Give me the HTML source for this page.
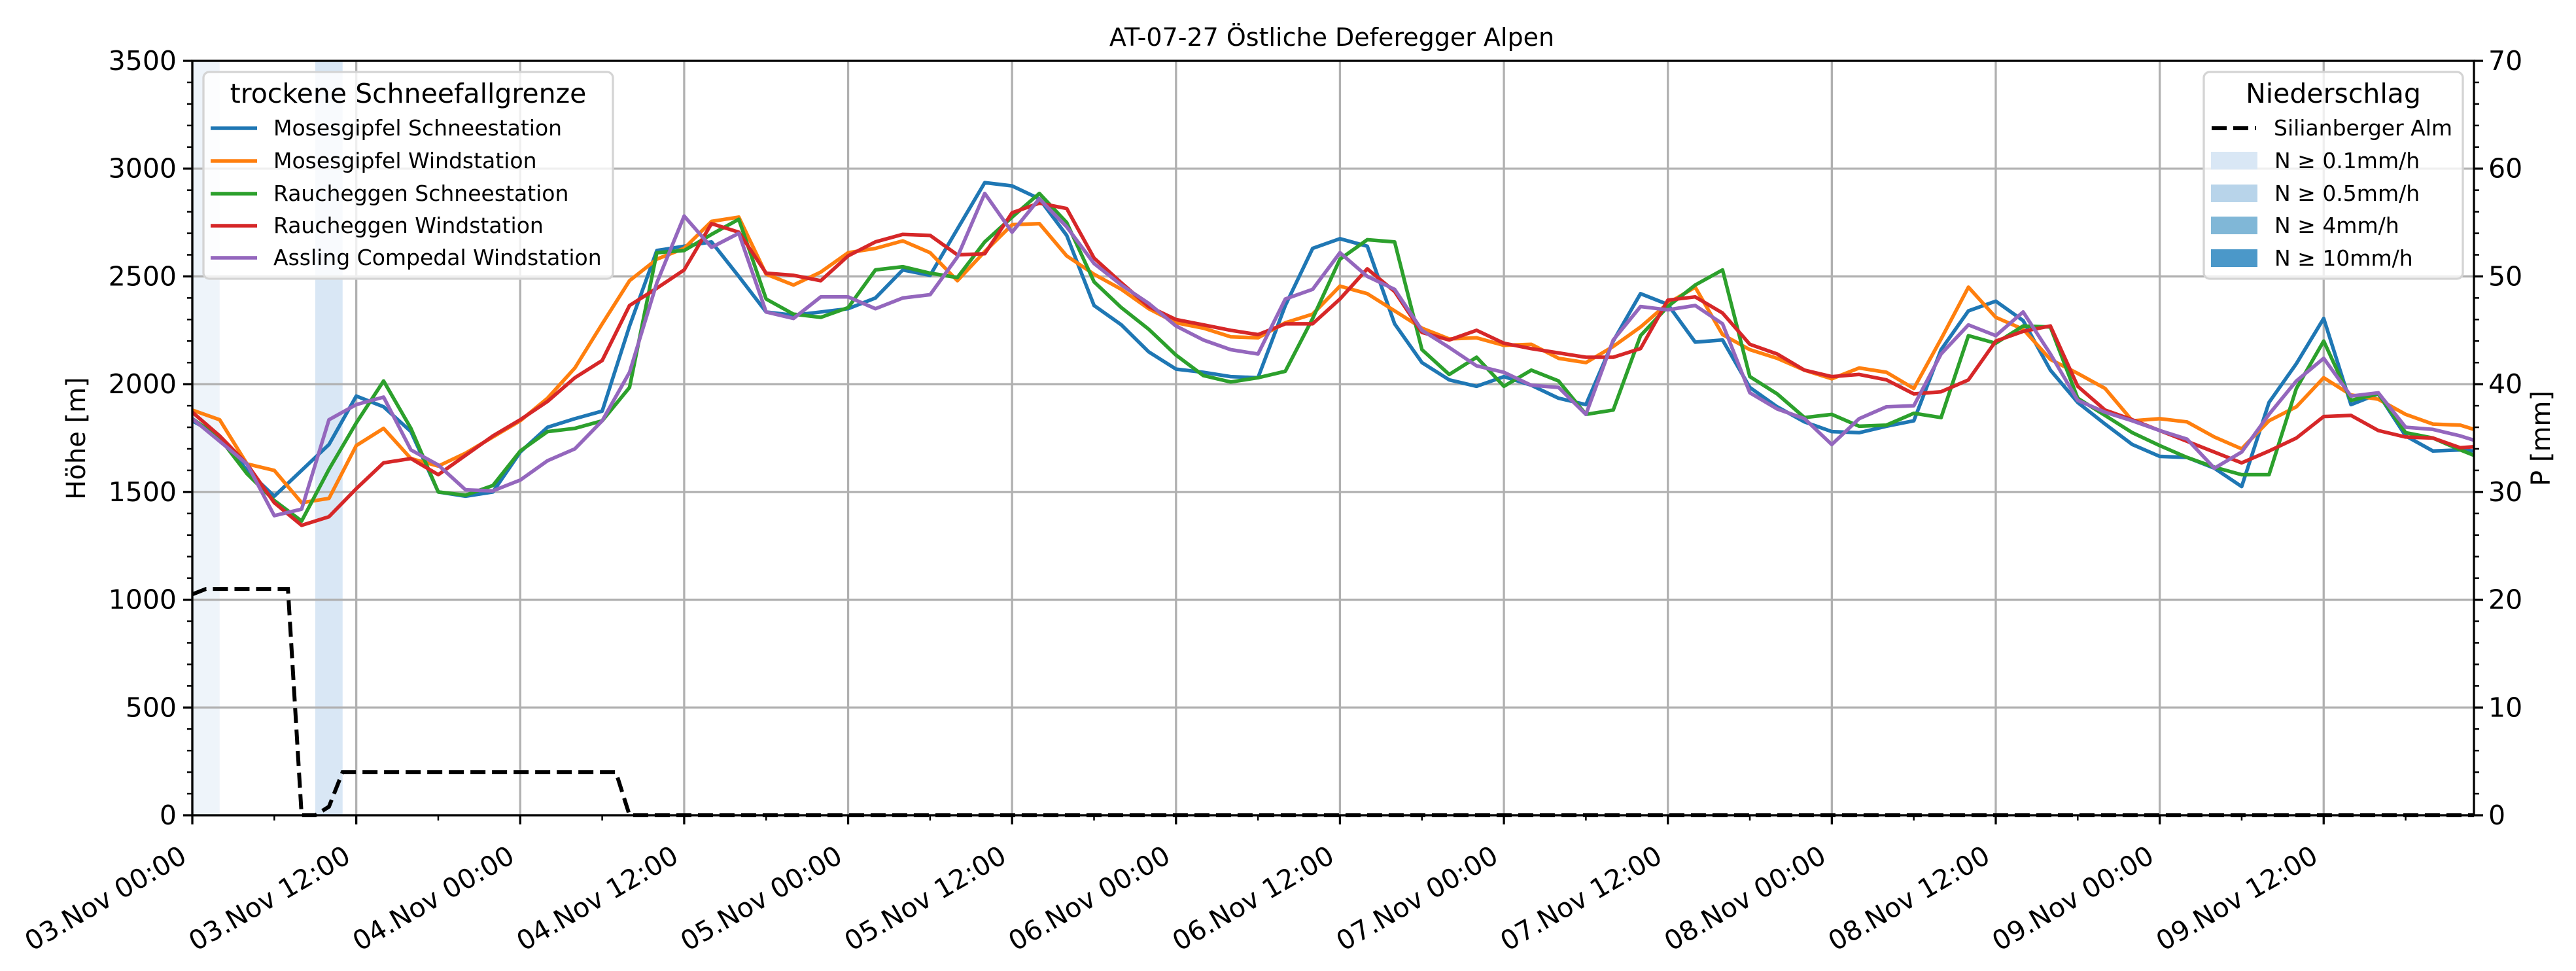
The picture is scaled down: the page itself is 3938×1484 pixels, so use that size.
<!DOCTYPE html>
<html><head><meta charset="utf-8"><style>
html,body{margin:0;padding:0;background:#fff;}
svg{display:block;font-family:"DejaVu Sans","Liberation Sans",sans-serif;}
</style></head>
<body>
<svg id="chart" width="3938" height="1484" viewBox="0 0 3938 1484" xmlns="http://www.w3.org/2000/svg">
<rect x="0" y="0" width="3938" height="1484" fill="#fff"/>
<g id="bands"></g>
<g id="grid"></g>
<g id="series"></g>
<g id="precip"></g>
<g id="axes"></g>
<text x="2036" y="70" font-size="38" text-anchor="middle">AT-07-27 Östliche Deferegger Alpen</text>
<text transform="translate(130,670) rotate(-90)" font-size="40" text-anchor="middle">Höhe [m]</text>
<text transform="translate(3898,670) rotate(-90)" font-size="40" text-anchor="middle">P [mm]</text>
<g id="legend-left">
<rect x="311" y="110" width="626" height="316" rx="9" fill="#fff" fill-opacity="0.8" stroke="#d4d4d4" stroke-width="3.3"/>
<text x="624" y="157" font-size="41" text-anchor="middle">trockene Schneefallgrenze</text>
</g>
<g id="legend-right">
<rect x="3369" y="110" width="396" height="316" rx="9" fill="#fff" fill-opacity="0.8" stroke="#d4d4d4" stroke-width="3.3"/>
<text x="3567" y="157" font-size="41" text-anchor="middle">Niederschlag</text>
<line x1="3381" y1="196" x2="3449" y2="196" stroke="#000" stroke-width="6" stroke-dasharray="23,10"/>
<text x="3476" y="207" font-size="33">Silianberger Alm</text>
<rect x="3380" y="232" width="71" height="27" fill="#d9e7f5"/>
<text x="3477" y="257" font-size="33">N ≥ 0.1mm/h</text>
<rect x="3380" y="282" width="71" height="27" fill="#b8d4ea"/>
<text x="3477" y="307" font-size="33">N ≥ 0.5mm/h</text>
<rect x="3380" y="331" width="71" height="27" fill="#80b7d7"/>
<text x="3477" y="356" font-size="33">N ≥ 4mm/h</text>
<rect x="3380" y="381" width="71" height="27" fill="#4b98c9"/>
<text x="3477" y="406" font-size="33">N ≥ 10mm/h</text>
</g>
</svg>
<script>
const hours = [0,2,4,6,8,10,12,14,16,18,20,22,24,26,28,30,32,34,36,38,40,42,44,46,48,50,52,54,56,58,60,62,64,66,68,70,72,74,76,78,80,82,84,86,88,90,92,94,96,98,100,102,104,106,108,110,112,114,116,118,120,122,124,126,128,130,132,134,136,138,140,142,144,146,148,150,152,154,156,158,160,162,164,166,167];
const seriesNames = ["Mosesgipfel Schneestation","Mosesgipfel Windstation","Raucheggen Schneestation","Raucheggen Windstation","Assling Compedal Windstation"];
const mosesSchnee = [1830,1760,1600,1480,1600,1720,1945,1895,1780,1500,1480,1500,1685,1800,1840,1875,2270,2620,2640,2660,2500,2335,
 2320,2335,2350,2400,2530,2505,2720,2935,2920,2860,2690,2365,2275,2150,2070,2055,2035,2030,2365,2630,2675,
 2640,2280,2100,2020,1990,2035,1995,1935,1905,2200,2420,2370,2195,2205,1985,1895,1825,1780,1775,1805,
 1830,2160,2340,2385,2295,2065,1915,1815,1720,1665,1660,1610,1525,1915,2095,2305,1905,1955,1760,1690,1695,1690];
const mosesWind = [1880,1835,1630,1600,1450,1470,1715,1795,1655,1620,1680,1755,1830,1935,2075,2280,2480,2580,2630,2755,2775,2510,
 2460,2520,2610,2630,2665,2610,2480,2615,2740,2745,2595,2510,2440,2350,2285,2260,2220,2215,2285,2325,2455,
 2420,2340,2260,2210,2215,2180,2185,2120,2100,2175,2265,2375,2450,2230,2160,2120,2065,2025,2075,2055,
 1980,2210,2450,2310,2255,2115,2050,1980,1830,1840,1825,1755,1700,1830,1895,2030,1950,1930,1860,1815,1810,1790];
const rauchSchnee = [1840,1750,1585,1460,1365,1605,1820,2015,1795,1500,1485,1530,1690,1780,1795,1830,1985,2610,2620,2695,2765,2395,
 2325,2310,2355,2530,2545,2515,2495,2660,2775,2885,2750,2475,2355,2255,2135,2040,2010,2030,2060,2305,2580,
 2670,2660,2160,2045,2125,1990,2065,2015,1860,1880,2225,2360,2460,2530,2035,1955,1845,1860,1805,1810,
 1865,1845,2225,2190,2270,2265,1935,1855,1775,1715,1660,1615,1580,1580,1980,2200,1925,1955,1775,1750,1695,1670];
const rauchWind = [1870,1760,1630,1450,1345,1385,1515,1635,1655,1580,1670,1760,1835,1920,2030,2110,2365,2445,2530,2745,2705,2515,
 2505,2480,2595,2660,2695,2690,2600,2605,2795,2840,2815,2585,2470,2360,2300,2275,2250,2230,2280,2280,2395,
 2535,2430,2240,2205,2250,2190,2165,2145,2125,2125,2165,2390,2405,2330,2185,2140,2065,2035,2045,2020,
 1955,1965,2020,2200,2245,2270,1990,1880,1835,1785,1735,1685,1635,1690,1750,1850,1855,1785,1755,1750,1705,1710];
const assling = [1840,1735,1630,1390,1420,1835,1905,1940,1695,1625,1510,1505,1555,1645,1700,1830,2055,2470,2780,2635,2700,2335,
 2305,2405,2405,2350,2400,2415,2590,2885,2705,2860,2730,2560,2460,2375,2270,2205,2160,2140,2395,2440,2610,
 2500,2440,2250,2170,2085,2055,1995,1985,1860,2205,2360,2345,2365,2280,1960,1885,1840,1720,1840,1895,
 1900,2140,2275,2225,2335,2140,1925,1870,1830,1785,1745,1610,1685,1860,2015,2120,1945,1960,1800,1790,1760,1740];
const precipHours = [0,1,7,8,9,10,11,31,32,167];
const precipValues = [20.5,21,21,0,0,0.8,4,4,0,0];
const bandStart = [0,9];
const bandEnd = [2,11];
const bandLevel = [0.1,0.1];
const yTicks = [0,500,1000,1500,2000,2500,3000,3500];
const y2Ticks = [0,10,20,30,40,50,60,70];
const xTickHours = [0,12,24,36,48,60,72,84,96,108,120,132,144,156];
const xTickLabels = ["03.Nov 00:00","03.Nov 12:00","04.Nov 00:00","04.Nov 12:00","05.Nov 00:00","05.Nov 12:00","06.Nov 00:00","06.Nov 12:00","07.Nov 00:00","07.Nov 12:00","08.Nov 00:00","08.Nov 12:00","09.Nov 00:00","09.Nov 12:00"];

const NS='http://www.w3.org/2000/svg';
const L=294,R=3782,T=93,B=1246,HMAX=167,YMAX=3500,PMAX=70;
const xs=h=>L+h*(R-L)/HMAX;
const ys=v=>B-v*(B-T)/YMAX;
const yp=v=>B-v*(B-T)/PMAX;
function mk(tag,attrs,parent){const e=document.createElementNS(NS,tag);for(const k in attrs)e.setAttribute(k,attrs[k]);parent.appendChild(e);return e;}
const $=id=>document.getElementById(id);

// bands
const levelColor=l=>l>=10?'#4b98c9':l>=4?'#80b7d7':l>=0.5?'#b8d4ea':'#d9e7f5';
bandStart.forEach((s,i)=>{
  const r=mk('rect',{x:xs(s),y:T,width:xs(bandEnd[i])-xs(s),height:B-T,fill:levelColor(bandLevel[i]),'fill-opacity':i===0?0.45:1},$('bands'));
  
  
});
// grid
yTicks.forEach(v=>{
  const g=mk('line',{x1:L,x2:R,y1:ys(v),y2:ys(v),stroke:'#b0b0b0','stroke-width':3.3},$('grid'));
  
  
});
xTickHours.forEach(h=>{
  const g=mk('line',{x1:xs(h),x2:xs(h),y1:T,y2:B,stroke:'#b0b0b0','stroke-width':3.3},$('grid'));
  
  
});
// series
const allSeries=[mosesSchnee,mosesWind,rauchSchnee,rauchWind,assling];
const colors=['#1f77b4','#ff7f0e','#2ca02c','#d62728','#9467bd'];
const sNames=['series-mosesgipfel-schneestation','series-mosesgipfel-windstation','series-raucheggen-schneestation','series-raucheggen-windstation','series-assling-compedal-windstation'];
allSeries.forEach((arr,i)=>{
  const d=arr.map((v,j)=>(j?'L':'M')+xs(hours[j]).toFixed(1)+','+ys(v).toFixed(1)).join('');
  const p=mk('path',{d:d,fill:'none',stroke:colors[i],'stroke-width':5.5,'stroke-linejoin':'round'},$('series'));
  
  
});
// precip line
{
  const d=precipValues.map((v,j)=>(j?'L':'M')+xs(precipHours[j]).toFixed(1)+','+yp(v).toFixed(1)).join('');
  const p=mk('path',{d:d,fill:'none',stroke:'#000','stroke-width':6,'stroke-dasharray':'23,10'},$('precip'));
  
  
}
// axes spines
const ax=$('axes');
const fr=mk('rect',{x:L,y:T,width:R-L,height:B-T,fill:'none',stroke:'#000','stroke-width':3.3},ax);


// y ticks
for(let v=0;v<=YMAX;v+=100){
  const major=v%500===0, len=major?14:8;
  const t=mk('line',{x1:L-len,x2:L,y1:ys(v),y2:ys(v),stroke:'#000','stroke-width':major?3.3:2.5},ax);
  
  
}
yTicks.forEach(v=>{
  const t=mk('text',{x:L-24,y:ys(v)+14,'font-size':41,'text-anchor':'end'},ax);
  t.textContent=v;
  
  
});
for(let v=0;v<=PMAX;v+=2){
  const major=v%10===0, len=major?14:8;
  const t=mk('line',{x1:R,x2:R+len,y1:yp(v),y2:yp(v),stroke:'#000','stroke-width':major?3.3:2.5},ax);
  
  
}
y2Ticks.forEach(v=>{
  const t=mk('text',{x:R+22,y:yp(v)+14,'font-size':41,'text-anchor':'start'},ax);
  t.textContent=v;
  
  
});
// x ticks
for(let h=0;h<=HMAX;h+=6){
  const major=h%12===0, len=major?14:8;
  const t=mk('line',{x1:xs(h),x2:xs(h),y1:B,y2:B+len,stroke:'#000','stroke-width':major?3.3:2.5},ax);
  
  
}
xTickHours.forEach((h,i)=>{
  const x=xs(h)-6,y=1316;
  const t=mk('text',{x:x,y:y,'font-size':41,'text-anchor':'end',transform:`rotate(-30 ${x} ${y})`},ax);
  t.textContent=xTickLabels[i];
  
  
});
// left legend entries
const rows=[196,246,296,345,394];
seriesNames.forEach((n,i)=>{
  const ln=mk('line',{x1:322,x2:393,y1:rows[i],y2:rows[i],stroke:colors[i],'stroke-width':5.5},$('legend-left'));
  
  
  const t=mk('text',{x:418,y:rows[i]+11,'font-size':33},$('legend-left'));
  t.textContent=n;
  
  
});
</script>
</body></html>
